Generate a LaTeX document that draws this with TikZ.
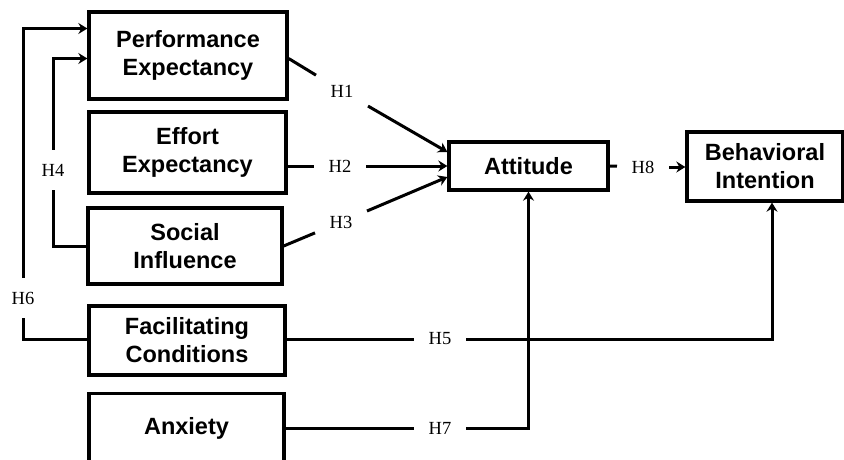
\documentclass[tikz,border=0pt]{standalone}
\usepackage{fontspec}
\setmainfont{Liberation Serif}
\setsansfont{Liberation Sans}
\usetikzlibrary{arrows.meta}

\begin{document}
\begin{tikzpicture}[x=1pt,y=-1pt,
            construct/.style={draw, line width=3.3pt, align=center, inner sep=2pt,
                font=\sffamily\bfseries\fontsize{23.5}{28}\selectfont},
            hyp/.style={inner xsep=14.5pt, inner ysep=14pt, font=\fontsize{18.5}{20}\selectfont},
            link/.style={line width=3pt},
            >={Stealth[length=9pt,width=11pt,inset=3pt]}]
            \useasboundingbox (0,0) rectangle (844,459);
            \clip (0,0) rectangle (844,459);
            \node[construct, minimum width=198, minimum height=87] (pe) at (188,55.5) {Performance\\Expectancy};
            \node[construct, minimum width=197, minimum height=81] (ee) at (187.5,152.5) {Effort\\Expectancy};
            \node[construct, minimum width=194, minimum height=76] (si) at (185,246) {Social\\Influence};
            \node[construct, minimum width=196, minimum height=69] (fc) at (187,340.5) {Facilitating\\Conditions};
            \node[construct, minimum width=195, minimum height=80, text depth=16pt, anchor=north] (anx) at (186.5,392) {Anxiety};
            \node[construct, minimum width=159, minimum height=48] (att) at (528.5,166) {Attitude};
            \node[construct, minimum width=156, minimum height=69] (bi) at (765,166.5) {Behavioral\\Intention};
            \node[hyp] (h1) at (342,91) {H1};
            \node[hyp] (h2) at (340,166) {H2};
            \node[hyp] (h3) at (341,222) {H3};
            \node[hyp] (h4) at (53,170) {H4};
            \node[hyp] (h5) at (440,339) {H5};
            \node[hyp] (h6) at (23,298) {H6};
            \node[hyp] (h7) at (440,428) {H7};
            \node[hyp] (h8) at (643,167) {H8};
            \draw[link] ([yshift=-3pt]pe.east) -- (h1);
            \draw[link,->] (h1) -- ([yshift=14pt]att.west);
            \draw[link] (ee.east |- h2) -- (h2);
            \draw[link,->] (h2) -- (att.west |- h2);
            \draw[link] (si.east) -- (h3);
            \draw[link,->] (h3) -- ([yshift=-11pt]att.west);
            \draw[link] (si.west) -| (h4);
            \draw[link,->] (h4) |- ([yshift=-3pt]pe.west);
            \draw[link] (fc.west |- h5) -| (h6);
            \draw[link,->] (h6) |- ([yshift=27pt]pe.west);
            \draw[link] (fc.east |- h5) -- (h5);
            \draw[link,->] (h5) -| ([xshift=7pt]bi.south);
            \draw[link] (anx.east |- h7) -- (h7);
            \draw[link,->] (h7) -| (att.south);
            \draw[link] (att.east) -- (h8);
            \draw[link,->] (h8) -- (bi.west |- h8);
        \end{tikzpicture}
\end{document}
